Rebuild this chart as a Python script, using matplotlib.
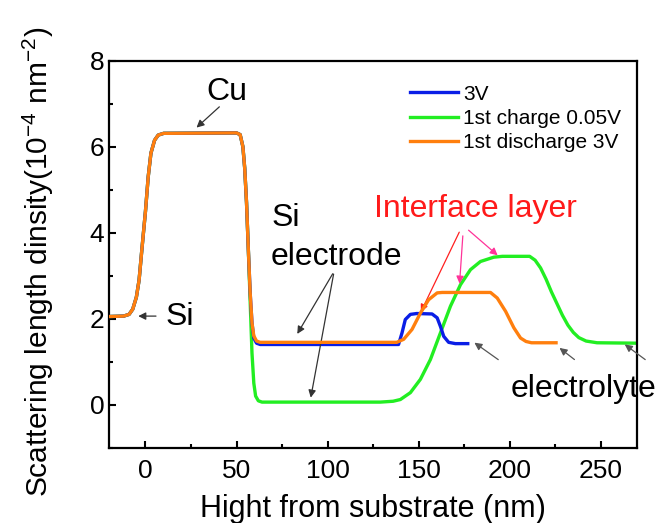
import matplotlib
matplotlib.use("Agg")
import matplotlib.pyplot as plt
from matplotlib.ticker import MultipleLocator

plt.rcParams['font.family'] = ['Liberation Sans', 'DejaVu Sans']

# --- data ---
# Cu layer is shared by all three profiles
cu_x = [-20, -12, -9, -7, -5, -3.5, -2, 0, 1.5, 3, 5, 7, 10, 50, 52, 53.5, 54.5, 55.5, 56.5]
cu_y = [2.05, 2.06, 2.1, 2.22, 2.5, 2.9, 3.6, 4.5, 5.3, 5.85, 6.15, 6.27, 6.31, 6.32, 6.28, 6.0, 5.5, 4.7, 3.6]

# 3V
v3_x = cu_x + [57.5, 58.5, 59.5, 61, 63, 139, 140.9, 142.7, 145.5, 149, 157.4, 160.2, 162,
               163.8, 166.5, 170.2, 177]
v3_y = cu_y + [2.6, 1.9, 1.55, 1.43, 1.40, 1.40, 1.67, 1.98, 2.1, 2.12, 2.11, 2.02, 1.82,
               1.59, 1.45, 1.42, 1.42]

# 1st charge 0.05V
ch_x = cu_x + [57.5, 58.5, 59.5, 60.5, 62, 64, 129, 136, 140, 145.5, 151, 156.5, 162, 167.5,
               173, 178.5, 184, 191.3, 196, 211, 214, 217, 220, 223, 226, 229, 232, 235,
               238, 242, 248, 270]
ch_y = cu_y + [2.4, 1.2, 0.5, 0.2, 0.09, 0.06, 0.06, 0.08, 0.12, 0.28, 0.59, 1.05, 1.67, 2.29,
               2.79, 3.14, 3.33, 3.43, 3.45, 3.45, 3.36, 3.18, 2.92, 2.62, 2.35, 2.08, 1.85,
               1.68, 1.56, 1.48, 1.44, 1.43]

# 1st discharge 3V
dis_x = cu_x + [57.5, 58.5, 59.5, 61, 63, 138, 141.8, 146.4, 151, 155.5, 160.2, 163, 189.5,
                193.2, 197.8, 202.3, 206, 209, 212, 225.5]
dis_y = cu_y + [2.6, 1.9, 1.6, 1.48, 1.45, 1.45, 1.52, 1.75, 2.13, 2.44, 2.6, 2.61, 2.61,
                2.48, 2.17, 1.79, 1.55, 1.47, 1.44, 1.44]

series_labels = ["3V", "1st charge 0.05V", "1st discharge 3V"]
series_colors = ["#0a1ee6", "#22ee22", "#ff7f0e"]

fig = plt.figure(figsize=(6.65, 5.23), dpi=100)
ax = fig.add_axes([0.164, 0.144, 0.794, 0.740])

ax.plot(v3_x, v3_y, color=series_colors[0], lw=2.4, label=series_labels[0], zorder=3)
ax.plot(ch_x, ch_y, color=series_colors[1], lw=2.4, label=series_labels[1], zorder=2)
ax.plot(dis_x, dis_y, color=series_colors[2], lw=2.4, label=series_labels[2], zorder=4)

ax.set_xlim(-20, 270)
ax.set_ylim(-1, 8)
ax.set_xticks([0, 50, 100, 150, 200, 250])
ax.set_yticks([0, 2, 4, 6, 8])
ax.xaxis.set_minor_locator(MultipleLocator(25))
ax.yaxis.set_minor_locator(MultipleLocator(1))
ax.tick_params(which='both', direction='in', top=False, right=False, width=1.5, labelsize=19)
ax.tick_params(which='major', length=5)
ax.tick_params(which='minor', length=3)
ax.tick_params(axis='x', pad=8)
for s in ax.spines.values():
    s.set_linewidth(1.6)

ax.set_xlabel("Hight from substrate (nm)", fontsize=22, labelpad=8)
ax.set_ylabel("Scattering length dinsity(10$^{\\mathregular{-4}}$ nm$^{\\mathregular{-2}}$)",
              fontsize=21.5)
ax.yaxis.set_label_coords(-0.10, 0.48)

ax.legend(loc='upper left', bbox_to_anchor=(0.55, 0.965), frameon=False, fontsize=15,
          handlelength=2.3, handletextpad=0.25, labelspacing=0.25, borderpad=0)

# --- annotations ---
arr_k = dict(arrowstyle='-|>', color='#333333', lw=0.9, mutation_scale=11)
ax.text(44.7, 7.27, "Cu", fontsize=23, ha='center', va='center')
ax.annotate("", xy=(26.9, 6.40), xytext=(41.7, 6.97), arrowprops=arr_k)

ax.text(11, 2.05, "Si", fontsize=23, ha='left', va='center')
ax.annotate("", xy=(-5.5, 2.06), xytext=(7.3, 2.06), arrowprops=arr_k)

ax.text(69, 4.35, "Si", fontsize=23, ha='left', va='center')
ax.text(69, 3.44, "electrode", fontsize=23, ha='left', va='center')
ax.annotate("", xy=(82.6, 1.59), xytext=(103.6, 3.1), arrowprops=arr_k)
ax.annotate("", xy=(90.5, 0.1), xytext=(103.6, 3.1), arrowprops=arr_k)

ax.text(181.5, 4.54, "Interface layer", fontsize=23, color='#ff1a1a', ha='center', va='center')
ax.annotate("", xy=(150.6, 2.1), xytext=(173, 4.07),
            arrowprops=dict(arrowstyle='-|>', color='#ff2020', lw=0.9, mutation_scale=11))
ax.annotate("", xy=(172.4, 2.75), xytext=(174.4, 3.99),
            arrowprops=dict(arrowstyle='-|>', color='#ff3399', lw=0.9, mutation_scale=11))
ax.annotate("", xy=(194.6, 3.43), xytext=(176.3, 4.1),
            arrowprops=dict(arrowstyle='-|>', color='#ff3399', lw=0.9, mutation_scale=11))

ax.text(200.5, 0.36, "electrolyte", fontsize=23, ha='left', va='center', clip_on=False)
arr_g = dict(arrowstyle='-|>', color='#555555', lw=0.9, mutation_scale=11)
ax.annotate("", xy=(179.4, 1.48), xytext=(195, 1.01), arrowprops=arr_g)
ax.annotate("", xy=(226.2, 1.36), xytext=(236.8, 1.01), arrowprops=arr_g)
ax.annotate("", xy=(262, 1.44), xytext=(275.7, 1.01), arrowprops=arr_g, annotation_clip=False)

fig.savefig("out.png", dpi=100)
